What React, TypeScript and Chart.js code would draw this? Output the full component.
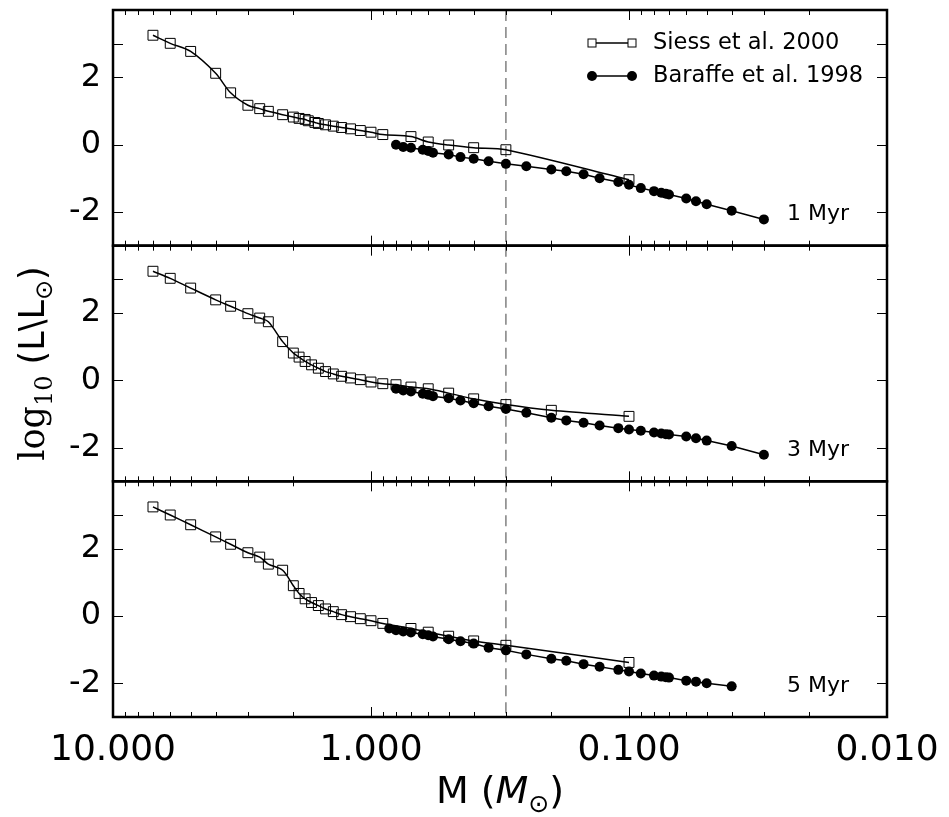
import React, { useEffect, useRef } from "react";
import { Chart, registerables } from "chart.js";

Chart.register(...registerables);

// ---- data (mass in solar masses, log10 luminosity) ----
const SIESS_MASS_1MYR = [7, 6, 5, 4, 3.5, 3, 2.7, 2.5, 2.2, 2.0, 1.9, 1.8, 1.75, 1.65, 1.6, 1.5, 1.4, 1.3, 1.2, 1.1, 1.0, 0.9, 0.7, 0.6, 0.5, 0.4, 0.3, 0.1];
const SIESS_LUM_1MYR = [3.25, 3.01, 2.77, 2.12, 1.54, 1.17, 1.07, 0.99, 0.89, 0.82, 0.78, 0.75, 0.71, 0.66, 0.63, 0.59, 0.55, 0.51, 0.47, 0.42, 0.37, 0.30, 0.24, 0.08, -0.01, -0.09, -0.15, -1.04];

const SIESS_MASS_3MYR = [7, 6, 5, 4, 3.5, 3, 2.7, 2.5, 2.2, 2.0, 1.9, 1.8, 1.7, 1.6, 1.5, 1.4, 1.3, 1.2, 1.1, 1.0, 0.9, 0.8, 0.7, 0.6, 0.5, 0.4, 0.3, 0.2, 0.1];
const SIESS_LUM_3MYR = [3.24, 3.03, 2.74, 2.39, 2.20, 1.98, 1.85, 1.74, 1.15, 0.81, 0.69, 0.56, 0.46, 0.36, 0.26, 0.19, 0.12, 0.07, 0.02, -0.05, -0.10, -0.13, -0.20, -0.25, -0.38, -0.55, -0.72, -0.89, -1.07];

const SIESS_MASS_5MYR = [7, 6, 5, 4, 3.5, 3, 2.7, 2.5, 2.2, 2.0, 1.9, 1.8, 1.7, 1.6, 1.5, 1.4, 1.3, 1.2, 1.1, 1.0, 0.9, 0.7, 0.6, 0.5, 0.4, 0.3, 0.1];
const SIESS_LUM_5MYR = [3.24, 3.00, 2.71, 2.35, 2.13, 1.88, 1.75, 1.54, 1.36, 0.90, 0.67, 0.51, 0.40, 0.31, 0.21, 0.13, 0.04, -0.02, -0.08, -0.14, -0.22, -0.37, -0.48, -0.60, -0.74, -0.87, -1.38];

const BARAFFE_MASS_1_3MYR = [0.8, 0.75, 0.7, 0.63, 0.6, 0.575, 0.5, 0.45, 0.4, 0.35, 0.3, 0.25, 0.2, 0.175, 0.15, 0.13, 0.11, 0.1, 0.09, 0.08, 0.075, 0.072, 0.07, 0.06, 0.055, 0.05, 0.04, 0.03];
const BARAFFE_LUM_1MYR = [0.0, -0.07, -0.09, -0.15, -0.19, -0.24, -0.29, -0.37, -0.42, -0.49, -0.57, -0.64, -0.74, -0.79, -0.88, -1.00, -1.11, -1.19, -1.29, -1.38, -1.43, -1.46, -1.48, -1.60, -1.68, -1.77, -1.96, -2.22];
const BARAFFE_LUM_3MYR = [-0.25, -0.30, -0.33, -0.40, -0.43, -0.47, -0.53, -0.60, -0.68, -0.77, -0.85, -0.96, -1.11, -1.19, -1.26, -1.34, -1.42, -1.46, -1.50, -1.55, -1.58, -1.60, -1.61, -1.67, -1.72, -1.79, -1.95, -2.21];

const BARAFFE_MASS_5MYR = [0.85, 0.8, 0.75, 0.7, 0.63, 0.6, 0.575, 0.5, 0.45, 0.4, 0.35, 0.3, 0.25, 0.2, 0.175, 0.15, 0.13, 0.11, 0.1, 0.09, 0.08, 0.075, 0.072, 0.07, 0.06, 0.055, 0.05, 0.04];
const BARAFFE_LUM_5MYR = [-0.37, -0.42, -0.46, -0.49, -0.54, -0.57, -0.61, -0.69, -0.75, -0.82, -0.94, -1.02, -1.14, -1.27, -1.33, -1.43, -1.51, -1.60, -1.65, -1.71, -1.77, -1.80, -1.82, -1.83, -1.92, -1.95, -2.00, -2.09];

const AGE_LABELS = ["1 Myr", "3 Myr", "5 Myr"];
const LEGEND_LABELS = ["Siess et al. 2000", "Baraffe et al. 1998"];
const X_MAJOR_TICKS = [10, 1, 0.1, 0.01];
const X_MINOR_FACTORS = [2, 3, 4, 5, 6, 7, 8, 9];
const Y_TICKS = [-2, 0, 2, 3];
const Y_LABELED_TICKS = [-2, 0, 2];
const DASHED_MASS = 0.3;
const Y_MIN = -3;
const Y_MAX = 4;
const AGE_LABEL_Y = -2.08;

const PANEL_IDS = ["p1", "p2", "p3"]; // top, middle, bottom
const SANS = "'DejaVu Sans'";
const SERIF = "'DejaVu Serif'";

const toPoints = (xs: number[], ys: number[]) => xs.map((x, i) => ({ x, y: ys[i] }));

type Part = { text: string; font: string; dy?: number };

function drawRich(ctx: CanvasRenderingContext2D, parts: Part[], cx: number, baseY: number) {
  let total = 0;
  const widths = parts.map((p) => {
    ctx.font = p.font;
    const w = ctx.measureText(p.text).width;
    total += w;
    return w;
  });
  let x = cx - total / 2;
  ctx.textAlign = "left";
  ctx.textBaseline = "alphabetic";
  parts.forEach((p, i) => {
    ctx.font = p.font;
    ctx.fillText(p.text, x, baseY + (p.dy || 0));
    x += widths[i];
  });
}

const decorPlugin = {
  id: "decor",
  beforeDatasetsDraw(chart: any) {
    const ctx = chart.ctx as CanvasRenderingContext2D;
    const xs = chart.scales.x;
    const px = xs.getPixelForValue(DASHED_MASS);
    ctx.save();
    ctx.strokeStyle = "#808080";
    ctx.lineWidth = 1.5;
    ctx.setLineDash([11, 6]);
    PANEL_IDS.forEach((id) => {
      const ys = chart.scales[id];
      ctx.beginPath();
      ctx.moveTo(px, ys.top);
      ctx.lineTo(px, ys.bottom);
      ctx.stroke();
    });
    ctx.restore();
  },
  afterDatasetsDraw(chart: any) {
    const ctx = chart.ctx as CanvasRenderingContext2D;
    const xs = chart.scales.x;
    ctx.save();
    ctx.strokeStyle = "#000";
    ctx.lineWidth = 1;
    PANEL_IDS.forEach((id) => {
      const ys = chart.scales[id];
      const drawXTick = (v: number, len: number) => {
        const p = Math.round(xs.getPixelForValue(v)) + 0.5;
        ctx.beginPath();
        ctx.moveTo(p, ys.top);
        ctx.lineTo(p, ys.top + len);
        ctx.moveTo(p, ys.bottom);
        ctx.lineTo(p, ys.bottom - len);
        ctx.stroke();
      };
      X_MAJOR_TICKS.forEach((v) => drawXTick(v, 10));
      X_MAJOR_TICKS.slice(1).forEach((d) => X_MINOR_FACTORS.forEach((f) => drawXTick(d * f, 5)));
      Y_TICKS.forEach((v) => {
        const p = Math.round(ys.getPixelForValue(v)) + 0.5;
        ctx.beginPath();
        ctx.moveTo(xs.left, p);
        ctx.lineTo(xs.left + 10, p);
        ctx.moveTo(xs.right, p);
        ctx.lineTo(xs.right - 10, p);
        ctx.stroke();
      });
    });
    ctx.lineWidth = 2.5;
    PANEL_IDS.forEach((id) => {
      const ys = chart.scales[id];
      ctx.strokeRect(xs.left, ys.top, xs.right - xs.left, ys.bottom - ys.top);
    });
    ctx.restore();
  },
  afterDraw(chart: any) {
    const ctx = chart.ctx as CanvasRenderingContext2D;
    const xs = chart.scales.x;
    const top = chart.scales.p1.top;
    const bottom = chart.scales.p3.bottom;
    ctx.save();
    ctx.fillStyle = "#000";
    ctx.strokeStyle = "#000";

    // age labels
    ctx.font = `22px ${SANS}`;
    ctx.textAlign = "right";
    ctx.textBaseline = "middle";
    PANEL_IDS.forEach((id, i) => {
      const ys = chart.scales[id];
      ctx.fillText(AGE_LABELS[i], xs.right - 38, ys.getPixelForValue(AGE_LABEL_Y));
    });

    // legend
    const lx0 = xs.right - 295;
    const lx1 = xs.right - 255;
    const rows = [top + 33, top + 66];
    rows.forEach((ry, i) => {
      ctx.lineWidth = 1.5;
      ctx.beginPath();
      ctx.moveTo(lx0, ry);
      ctx.lineTo(lx1, ry);
      ctx.stroke();
      [lx0, lx1].forEach((mx) => {
        if (i === 0) {
          ctx.fillStyle = "#fff";
          ctx.lineWidth = 1;
          ctx.fillRect(mx - 4, ry - 4, 8, 8);
          ctx.strokeRect(mx - 4, ry - 4, 8, 8);
          ctx.fillStyle = "#000";
        } else {
          ctx.beginPath();
          ctx.arc(mx, ry, 5, 0, Math.PI * 2);
          ctx.fill();
        }
      });
      ctx.font = `22.5px ${SANS}`;
      ctx.textAlign = "left";
      ctx.textBaseline = "middle";
      ctx.fillText(LEGEND_LABELS[i], lx1 + 21, ry);
    });

    // x title
    ctx.fillStyle = "#000";
    drawRich(
      ctx,
      [
        { text: "M (", font: `38px ${SANS}` },
        { text: "M", font: `italic 38px ${SANS}` },
        { text: "\u2299", font: `25px ${SANS}`, dy: 9 },
        { text: ")", font: `38px ${SANS}` },
      ],
      (xs.left + xs.right) / 2,
      803
    );

    // y title
    ctx.save();
    ctx.translate(44, (top + bottom) / 2);
    ctx.rotate(-Math.PI / 2);
    drawRich(
      ctx,
      [
        { text: "log", font: `35px ${SERIF}` },
        { text: "10", font: `24px ${SERIF}`, dy: 8 },
        { text: " (L\\L", font: `35px ${SANS}` },
        { text: "\u2299", font: `24px ${SANS}`, dy: 8 },
        { text: ")", font: `35px ${SANS}` },
      ],
      0,
      0
    );
    ctx.restore();

    ctx.restore();
  },
};

function yScale() {
  return {
    type: "linear",
    position: "left",
    stack: "lum",
    stackWeight: 1,
    min: Y_MIN,
    max: Y_MAX,
    grid: { display: false, drawTicks: false },
    border: { display: false },
    ticks: {
      color: "#000",
      font: { family: "DejaVu Sans", size: 32 },
      padding: 12,
      callback: (v: number) => (Y_LABELED_TICKS.includes(v) ? String(v) : ""),
    },
    afterBuildTicks: (s: any) => {
      s.ticks = Y_TICKS.map((v) => ({ value: v }));
    },
    afterFit: (s: any) => {
      s.width = 113;
      s.paddingTop = 0;
      s.paddingBottom = 0;
    },
  };
}

function siessSet(xs: number[], ys: number[], axis: string) {
  return {
    label: LEGEND_LABELS[0],
    data: toPoints(xs, ys),
    yAxisID: axis,
    borderColor: "#000",
    borderWidth: 1.5,
    tension: 0.3,
    pointStyle: "rect",
    pointRadius: 7,
    pointBorderWidth: 1,
    pointBorderColor: "#000",
    pointBackgroundColor: "rgba(0,0,0,0)",
    fill: false,
    order: 2,
  };
}

function baraffeSet(xs: number[], ys: number[], axis: string) {
  return {
    label: LEGEND_LABELS[1],
    data: toPoints(xs, ys),
    yAxisID: axis,
    borderColor: "#000",
    borderWidth: 1.5,
    tension: 0,
    pointStyle: "circle",
    pointRadius: 5,
    pointBorderWidth: 0,
    pointBackgroundColor: "#000",
    fill: false,
    order: 1,
  };
}

export default function App() {
  const ref = useRef<HTMLCanvasElement | null>(null);
  useEffect(() => {
    if (!ref.current) return;
    const chart = new Chart(ref.current, {
      type: "line",
      data: {
        datasets: [
          siessSet(SIESS_MASS_1MYR, SIESS_LUM_1MYR, "p1"),
          baraffeSet(BARAFFE_MASS_1_3MYR, BARAFFE_LUM_1MYR, "p1"),
          siessSet(SIESS_MASS_3MYR, SIESS_LUM_3MYR, "p2"),
          baraffeSet(BARAFFE_MASS_1_3MYR, BARAFFE_LUM_3MYR, "p2"),
          siessSet(SIESS_MASS_5MYR, SIESS_LUM_5MYR, "p3"),
          baraffeSet(BARAFFE_MASS_5MYR, BARAFFE_LUM_5MYR, "p3"),
        ] as any,
      },
      options: {
        animation: false,
        responsive: false,
        devicePixelRatio: 1,
        layout: { padding: { left: 0, top: 10, right: 62, bottom: 0 } },
        plugins: { legend: { display: false }, tooltip: { enabled: false } },
        scales: {
          x: {
            type: "logarithmic",
            position: "bottom",
            min: 0.01,
            max: 10,
            reverse: true,
            grid: { display: false, drawTicks: false },
            border: { display: false },
            ticks: {
              color: "#000",
              font: { family: "DejaVu Sans", size: 36 },
              padding: 12,
              autoSkip: false,
              maxRotation: 0,
              callback: (v: number) => Number(v).toFixed(3),
            },
            afterBuildTicks: (s: any) => {
              s.ticks = X_MAJOR_TICKS.map((v) => ({ value: v }));
            },
            afterFit: (s: any) => {
              s.height = 100;
              s.paddingLeft = 0;
              s.paddingRight = 0;
            },
          },
          // stacked left axes: the last one declared is placed on top
          p3: yScale(),
          p2: yScale(),
          p1: yScale(),
        } as any,
      },
      plugins: [decorPlugin],
    });
    return () => chart.destroy();
  }, []);
  return (
    <div style={{ position: "absolute", left: 0, top: 0, width: 949, height: 817, background: "#fff" }}>
      <canvas ref={ref} width={949} height={817} style={{ width: 949, height: 817, display: "block" }} />
    </div>
  );
}
